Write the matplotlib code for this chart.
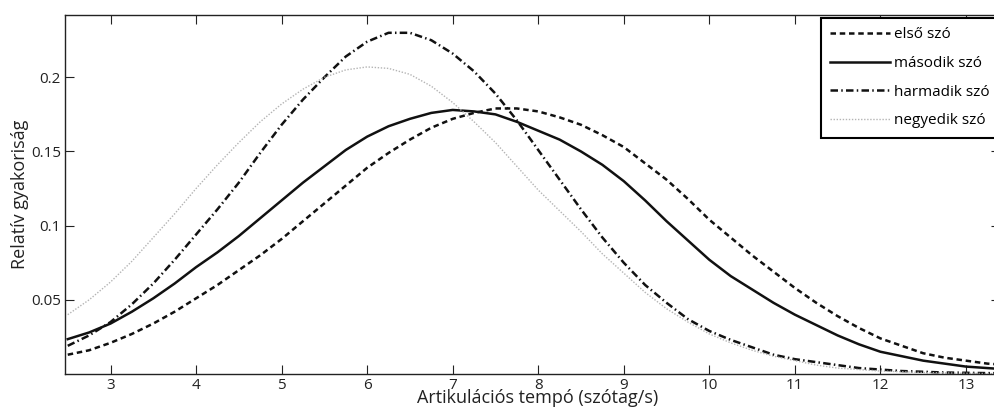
import matplotlib
matplotlib.use("Agg")
import matplotlib.pyplot as plt

plt.rcParams['font.family'] = ['Open Sans', 'DejaVu Sans']

# Articulation rate (syllables/s) sampled every 0.25
tempo = [2.50, 2.75, 3.00, 3.25, 3.50, 3.75, 4.00, 4.25, 4.50, 4.75,
         5.00, 5.25, 5.50, 5.75, 6.00, 6.25, 6.50, 6.75, 7.00, 7.25,
         7.50, 7.75, 8.00, 8.25, 8.50, 8.75, 9.00, 9.25, 9.50, 9.75,
         10.00, 10.25, 10.50, 10.75, 11.00, 11.25, 11.50, 11.75, 12.00, 12.25,
         12.50, 12.75, 13.00, 13.25, 13.50]

# Relative frequency per word position
elso = [0.013, 0.016, 0.021, 0.027, 0.034, 0.042, 0.051, 0.060, 0.070, 0.080,
        0.091, 0.103, 0.115, 0.127, 0.139, 0.149, 0.158, 0.166, 0.172, 0.176,
        0.179, 0.179, 0.177, 0.173, 0.168, 0.161, 0.153, 0.142, 0.131, 0.118,
        0.104, 0.092, 0.080, 0.069, 0.058, 0.048, 0.039, 0.031, 0.024, 0.019,
        0.014, 0.011, 0.009, 0.007, 0.006]
masodik = [0.0235, 0.028, 0.034, 0.042, 0.051, 0.061, 0.072, 0.082, 0.093, 0.105,
           0.117, 0.129, 0.140, 0.151, 0.160, 0.167, 0.172, 0.176, 0.178, 0.177,
           0.175, 0.170, 0.164, 0.158, 0.150, 0.141, 0.130, 0.117, 0.103, 0.090,
           0.077, 0.066, 0.057, 0.048, 0.040, 0.033, 0.026, 0.020, 0.015, 0.012,
           0.009, 0.007, 0.005, 0.004, 0.003]
harmadik = [0.019, 0.026, 0.035, 0.047, 0.061, 0.077, 0.094, 0.111, 0.129, 0.149,
            0.168, 0.185, 0.200, 0.214, 0.224, 0.230, 0.230, 0.225, 0.216, 0.204,
            0.189, 0.171, 0.151, 0.131, 0.111, 0.092, 0.075, 0.060, 0.048, 0.037,
            0.029, 0.023, 0.018, 0.013, 0.010, 0.008, 0.006, 0.004, 0.003, 0.002,
            0.0015, 0.001, 0.0008, 0.0006, 0.0005]
negyedik = [0.040, 0.050, 0.062, 0.076, 0.092, 0.108, 0.125, 0.141, 0.156, 0.170,
            0.182, 0.192, 0.200, 0.205, 0.207, 0.206, 0.202, 0.194, 0.183, 0.170,
            0.156, 0.140, 0.124, 0.110, 0.096, 0.081, 0.068, 0.055, 0.044, 0.035,
            0.027, 0.021, 0.016, 0.012, 0.009, 0.006, 0.004, 0.003, 0.002, 0.0015,
            0.001, 0.0007, 0.0005, 0.0003, 0.0002]

labels = ["első szó", "második szó", "harmadik szó", "negyedik szó"]

fig = plt.figure(figsize=(9.95, 4.13), dpi=100)
ax = fig.add_axes([65 / 995, 39 / 413, 935 / 995, 359 / 413])

ax.plot(tempo, elso, color='#111111', lw=1.8, dashes=(2.2, 1.5), label=labels[0])
ax.plot(tempo, masodik, color='#111111', lw=1.8, label=labels[1])
ax.plot(tempo, harmadik, color='#111111', lw=1.8, dashes=(3.0, 1.3, 0.6, 1.3), label=labels[2])
ax.plot(tempo, negyedik, color='#b4b4b4', lw=1.0, dashes=(1.0, 1.2), label=labels[3])

ax.set_xlim(2.468, 13.398)
ax.set_ylim(0, 0.242)
ax.set_xticks(range(3, 14))
ax.set_yticks([0.05, 0.1, 0.15, 0.2])
ax.set_yticklabels(["0.05", "0.1", "0.15", "0.2"])
ax.tick_params(direction='in', length=6.5, width=0.8, top=True, right=True,
               labelsize=11, pad=3, colors='#222222')
for side in ax.spines.values():
    side.set_linewidth(1.0)
    side.set_color('#222222')

ax.set_xlabel("Artikulációs tempó (szótag/s)", fontsize=13, color='#222222')
ax.xaxis.set_label_coords(0.505, -0.042)
ax.set_ylabel("Relatív gyakoriság", fontsize=13, color='#222222')
ax.yaxis.set_label_coords(-0.038, 0.5)

leg = ax.legend(loc='upper left', bbox_to_anchor=(0.8086, 0.9916), fontsize=11,
                handlelength=3.9, handletextpad=0.3, labelspacing=0.9,
                borderpad=0.6, borderaxespad=0, fancybox=False, framealpha=1)
leg.get_frame().set_edgecolor('black')
leg.get_frame().set_linewidth(1.5)

fig.savefig("out.png", dpi=100)
